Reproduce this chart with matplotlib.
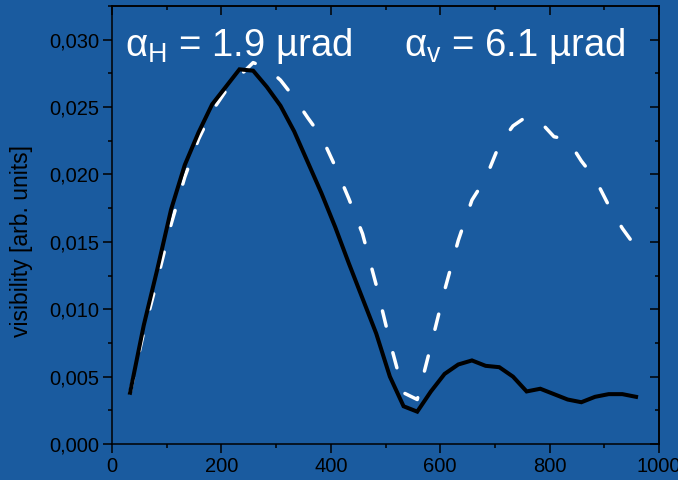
import numpy as np
import matplotlib
matplotlib.use("Agg")
import matplotlib.pyplot as plt
from matplotlib.ticker import MultipleLocator, FuncFormatter

plt.rcParams['font.family'] = ['Liberation Sans', 'DejaVu Sans']
plt.rcParams['mathtext.fontset'] = 'custom'
plt.rcParams['mathtext.rm'] = 'Liberation Sans'
plt.rcParams['mathtext.it'] = 'Liberation Sans'

# sample positions (same for both curves)
pos = [33, 58, 83, 108, 133, 158, 183, 208, 233, 258, 283, 308, 333, 358,
       383, 408, 433, 458, 483, 508, 533, 558, 583, 608, 633, 658, 683, 708,
       733, 758, 783, 808, 833, 858, 883, 908, 933, 958]

vis_h = [0.0038, 0.0088, 0.0130, 0.0174, 0.0207, 0.0231, 0.0252, 0.0265,
         0.0278, 0.0277, 0.0265, 0.0251, 0.0232, 0.0209, 0.0186, 0.0161,
         0.0134, 0.0108, 0.0082, 0.0050, 0.0028, 0.0024, 0.0039, 0.0052,
         0.0059, 0.0062, 0.0058, 0.0057, 0.0050, 0.0039, 0.0041, 0.0037,
         0.0033, 0.0031, 0.0035, 0.0037, 0.0037, 0.0035]

vis_v = [0.0038, 0.0083, 0.0122, 0.0163, 0.0198, 0.0226, 0.0247, 0.0262,
         0.0273, 0.0283, 0.0279, 0.0270, 0.0257, 0.0242, 0.0228, 0.0206,
         0.0182, 0.0156, 0.0118, 0.0076, 0.0038, 0.0033, 0.0073, 0.0114,
         0.0151, 0.0181, 0.0197, 0.0222, 0.0236, 0.0243, 0.0239, 0.0228,
         0.0226, 0.0210, 0.0197, 0.0177, 0.0160, 0.0146]

bg = '#1a5b9f'

fig = plt.figure(figsize=(6.78, 4.8), dpi=100, facecolor=bg)
ax = fig.add_axes([0.1652, 0.075, 0.8068, 0.9125])
ax.set_facecolor(bg)

ax.plot(pos, vis_v, color='white', lw=2.5, dashes=(4.5, 7.9),
        dash_capstyle='round', solid_capstyle='round', zorder=2)
ax.plot(pos, vis_h, color='black', lw=2.9, solid_joinstyle='miter', zorder=3)

ax.set_xlim(0, 1000)
ax.set_ylim(0, 0.0325)
ax.xaxis.set_major_locator(MultipleLocator(200))
ax.xaxis.set_minor_locator(MultipleLocator(100))
ax.yaxis.set_major_locator(MultipleLocator(0.005))
ax.yaxis.set_minor_locator(MultipleLocator(0.0025))
ax.yaxis.set_major_formatter(FuncFormatter(lambda v, p: ('%.3f' % v).replace('.', ',')))

for s in ax.spines.values():
    s.set_linewidth(1.1)
    s.set_color('black')

ax.tick_params(which='both', direction='out', colors='black', width=1.1,
               labelsize=14.5, top=False, right=False)
ax.tick_params(which='major', length=6.3, pad=3)
ax.tick_params(which='minor', length=3.2)

# inward ticks on top and right
top = ax.secondary_xaxis('top')
top.xaxis.set_major_locator(MultipleLocator(200))
top.xaxis.set_minor_locator(MultipleLocator(100))
top.tick_params(which='both', direction='in', labeltop=False, width=1.1)
top.tick_params(which='major', length=6.3)
top.tick_params(which='minor', length=3.2)
top.spines['top'].set_linewidth(1.1)

right = ax.secondary_yaxis('right')
right.yaxis.set_major_locator(MultipleLocator(0.005))
right.yaxis.set_minor_locator(MultipleLocator(0.0025))
right.tick_params(which='both', direction='in', labelright=False, width=1.1)
right.tick_params(which='major', length=6.3)
right.tick_params(which='minor', length=3.2)
right.spines['right'].set_linewidth(1.1)

ax.set_ylabel('visibility [arb. units]', fontsize=16.5, color='black')
ax.yaxis.set_label_coords(-0.144, 0.463)

ax.text(24, 0.0288, r'$\mathregular{\alpha_H}$ = 1.9 µrad', color='white',
        fontsize=27.5, ha='left', va='baseline')
ax.text(534, 0.0288, r'$\mathregular{\alpha_v}$ = 6.1 µrad', color='white',
        fontsize=27.5, ha='left', va='baseline')

fig.savefig('out.png', dpi=100, facecolor=bg)
